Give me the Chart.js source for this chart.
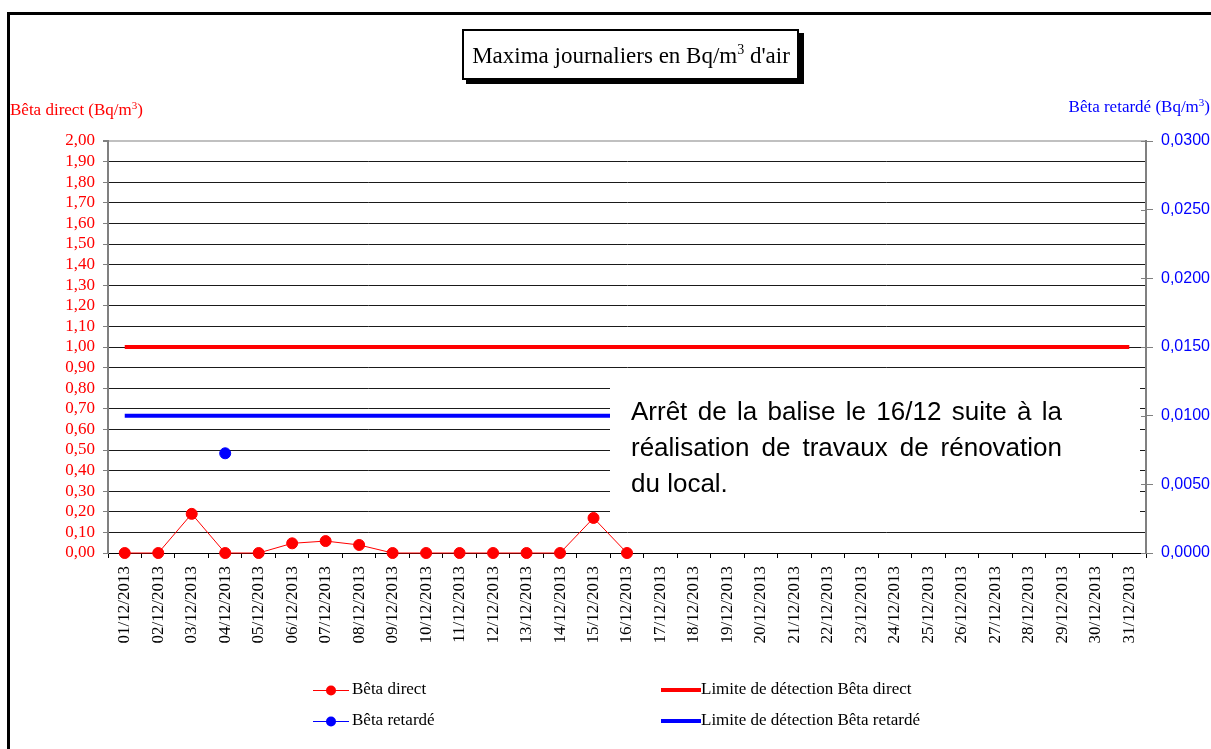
<!DOCTYPE html>
<html>
<head>
<meta charset="utf-8">
<script src="https://cdn.jsdelivr.net/npm/chart.js@4.4.1/dist/chart.umd.min.js"></script>
<style>
  body { margin: 0; background: #fff; }
</style>
</head>
<body>
<canvas id="myChart" width="1211" height="749"></canvas>
<script>
const days = [
  '01/12/2013', '02/12/2013', '03/12/2013', '04/12/2013', '05/12/2013', '06/12/2013',
  '07/12/2013', '08/12/2013', '09/12/2013', '10/12/2013', '11/12/2013', '12/12/2013',
  '13/12/2013', '14/12/2013', '15/12/2013', '16/12/2013', '17/12/2013', '18/12/2013',
  '19/12/2013', '20/12/2013', '21/12/2013', '22/12/2013', '23/12/2013', '24/12/2013',
  '25/12/2013', '26/12/2013', '27/12/2013', '28/12/2013', '29/12/2013', '30/12/2013',
  '31/12/2013'
];
// Bq/m3, left axis
const betaDirect = [0, 0, 0.19, 0, 0, 0.047, 0.058, 0.039, 0, 0, 0, 0, 0, 0, 0.17, 0,
  null, null, null, null, null, null, null, null, null, null, null, null, null, null, null];
// Bq/m3, right axis
const betaRetarde = [null, null, null, 0.00726, null, null, null, null, null, null, null, null,
  null, null, null, null, null, null, null, null, null, null, null, null, null, null, null,
  null, null, null, null];
const limiteDirect = 1.0;
const limiteRetarde = 0.01;
const leftMax = 2, leftStep = 0.1;
const rightMax = 0.03, rightStep = 0.005;

const serif = 'Liberation Serif';
const sans = 'Liberation Sans';

const ctx = document.getElementById('myChart');

// draw text with a superscript "3" at the spot marked by ³
function supText(c, txt, x, y, size, align) {
  const parts = txt.split('³');
  c.font = size + 'px "' + serif + '"';
  const w0 = c.measureText(parts[0]).width;
  c.font = Math.round(size * 0.62) + 'px "' + serif + '"';
  const ws = c.measureText('3').width;
  c.font = size + 'px "' + serif + '"';
  const w1 = c.measureText(parts[1]).width;
  let x0 = x;
  if (align === 'right') x0 = x - (w0 + ws + w1);
  if (align === 'center') x0 = x - (w0 + ws + w1) / 2;
  c.textAlign = 'left';
  c.textBaseline = 'alphabetic';
  c.fillText(parts[0], x0, y);
  c.font = Math.round(size * 0.62) + 'px "' + serif + '"';
  c.fillText('3', x0 + w0, y - size * 0.38);
  c.font = size + 'px "' + serif + '"';
  c.fillText(parts[1], x0 + w0 + ws, y);
}

function justify(c, line, x, y, width) {
  const words = line.split(' ');
  let total = 0;
  words.forEach(w => { total += c.measureText(w).width; });
  const gap = (width - total) / (words.length - 1);
  let cx = x;
  words.forEach(w => {
    c.fillText(w, cx, y);
    cx += c.measureText(w).width + gap;
  });
}

const decor = {
  id: 'decor',
  beforeDraw(chart) {
    const c = chart.ctx;
    c.save();
    c.fillStyle = '#fff';
    c.fillRect(0, 0, chart.width, chart.height);
    c.strokeStyle = '#000';
    c.lineWidth = 3;
    c.strokeRect(8.5, 13.5, 1400, 900);
    c.restore();
  },
  afterDatasetsDraw(chart) {
    const c = chart.ctx;
    c.save();
    c.fillStyle = '#fff';
    c.fillRect(610, 377, 530, 147);
    c.fillStyle = '#000';
    c.font = '26px "' + sans + '"';
    c.textBaseline = 'alphabetic';
    justify(c, 'Arrêt de la balise le 16/12 suite à la', 631, 420, 431);
    justify(c, 'réalisation de travaux de rénovation', 631, 456, 431);
    c.fillText('du local.', 631, 492);
    c.restore();
  },
  afterDraw(chart) {
    const c = chart.ctx;
    const area = chart.chartArea;
    c.save();

    // inner halves of right axis ticks
    const y1 = chart.scales.y1;
    c.strokeStyle = '#808080';
    c.lineWidth = 1;
    y1.ticks.forEach(t => {
      const py = Math.round(y1.getPixelForValue(t.value)) + 0.5;
      c.beginPath();
      c.moveTo(area.right - 5, py);
      c.lineTo(area.right, py);
      c.stroke();
    });

    // title box with shadow
    c.fillStyle = '#000';
    c.fillRect(466, 33, 338, 51);
    c.fillStyle = '#fff';
    c.fillRect(462, 29, 337, 51);
    c.strokeStyle = '#000';
    c.lineWidth = 2;
    c.strokeRect(463, 30, 335, 49);
    c.fillStyle = '#000';
    supText(c, 'Maxima journaliers en Bq/m³ d\'air', 631, 63, 23, 'center');

    // axis titles
    c.fillStyle = '#ff0000';
    supText(c, 'Bêta direct (Bq/m³)', 10, 115, 17, 'left');
    c.fillStyle = '#0000ff';
    supText(c, 'Bêta retardé (Bq/m³)', 1210, 112, 17, 'right');

    // legend
    c.font = '17px "' + serif + '"';
    c.textBaseline = 'middle';
    c.textAlign = 'left';
    const rows = [
      { y: 690, col: '#ff0000', label: 'Bêta direct', lim: 'Limite de détection Bêta direct' },
      { y: 721, col: '#0000ff', label: 'Bêta retardé', lim: 'Limite de détection Bêta retardé' }
    ];
    rows.forEach(r => {
      c.strokeStyle = r.col;
      c.lineWidth = 1;
      c.beginPath();
      c.moveTo(313, r.y + 0.5);
      c.lineTo(349, r.y + 0.5);
      c.stroke();
      c.fillStyle = r.col;
      c.beginPath();
      c.arc(331, r.y + 0.5, 5, 0, Math.PI * 2);
      c.fill();
      c.fillStyle = '#000';
      c.fillText(r.label, 352, r.y);

      c.strokeStyle = r.col;
      c.lineWidth = 4;
      c.beginPath();
      c.moveTo(661, r.y);
      c.lineTo(701, r.y);
      c.stroke();
      c.fillStyle = '#000';
      c.fillText(r.lim, 701, r.y);
    });
    c.restore();
  }
};

new Chart(ctx, {
  type: 'line',
  data: {
    labels: days,
    datasets: [
      {
        label: 'Bêta direct',
        data: betaDirect,
        yAxisID: 'y',
        borderColor: '#ff0000',
        backgroundColor: '#ff0000',
        borderWidth: 1,
        pointRadius: 5.5,
        pointHoverRadius: 5.5,
        spanGaps: false,
        clip: false,
        order: 0
      },
      {
        label: 'Bêta retardé',
        data: betaRetarde,
        yAxisID: 'y1',
        borderColor: '#0000ff',
        backgroundColor: '#0000ff',
        borderWidth: 1,
        pointRadius: 5.5,
        clip: false,
        order: 1
      },
      {
        label: 'Limite de détection Bêta direct',
        data: days.map(() => limiteDirect),
        yAxisID: 'y',
        borderColor: '#ff0000',
        borderWidth: 4,
        pointRadius: 0,
        order: 2
      },
      {
        label: 'Limite de détection Bêta retardé',
        data: days.map(() => limiteRetarde),
        yAxisID: 'y1',
        borderColor: '#0000ff',
        borderWidth: 4,
        pointRadius: 0,
        order: 3
      }
    ]
  },
  options: {
    responsive: false,
    animation: false,
    events: [],
    layout: { padding: { top: 141, left: 0, right: 0, bottom: 0 } },
    plugins: {
      legend: { display: false },
      title: { display: false },
      tooltip: { enabled: false }
    },
    scales: {
      x: {
        offset: true,
        grid: {
          display: true,
          drawOnChartArea: false,
          offset: true,
          tickLength: 5,
          color: '#000'
        },
        border: { display: true, color: '#000', width: 1 },
        ticks: {
          autoSkip: false,
          maxRotation: 90,
          minRotation: 90,
          padding: 8,
          color: '#000',
          font: { family: serif, size: 17 }
        },
        afterFit(scale) { scale.height = 196; }
      },
      y: {
        position: 'left',
        min: 0,
        max: leftMax,
        grid: {
          color: (context) => (context.tick && context.tick.value > leftMax - 0.001) ? '#c0c0c0' : '#1a1a1a',
          lineWidth: (context) => (context.tick && context.tick.value > leftMax - 0.001) ? 2 : 1,
          tickColor: '#808080',
          tickLength: 5
        },
        border: { display: true, color: '#808080', width: 2 },
        ticks: {
          stepSize: leftStep,
          autoSkip: false,
          padding: 8,
          color: '#ff0000',
          font: { family: serif, size: 17 },
          callback: (v) => v.toFixed(2).replace('.', ',')
        },
        afterFit(scale) { scale.width = 108; }
      },
      y1: {
        position: 'right',
        min: 0,
        max: rightMax,
        grid: {
          drawOnChartArea: false,
          color: '#808080',
          tickLength: 7
        },
        border: { display: true, color: '#808080', width: 2 },
        ticks: {
          stepSize: rightStep,
          autoSkip: false,
          padding: 8,
          color: '#0000ff',
          font: { family: sans, size: 16 },
          callback: (v) => v.toFixed(4).replace('.', ',')
        },
        afterFit(scale) { scale.width = 65; }
      }
    }
  },
  plugins: [decor]
});
</script>
</body>
</html>
